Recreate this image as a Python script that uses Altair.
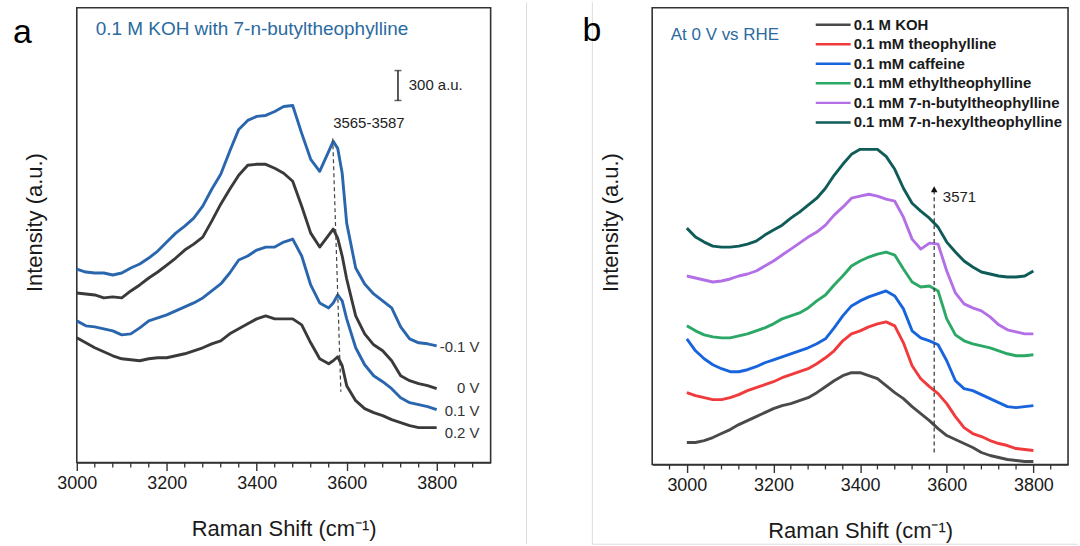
import altair as alt
import pandas as pd

FONT = "Liberation Sans"

# ---------------- Panel a : 0.1 M KOH with 7-n-butyltheophylline ----------------
shift_a = [3000, 3020, 3040, 3060, 3080, 3100, 3120, 3140, 3160, 3180, 3200, 3220, 3240,
           3260, 3280, 3300, 3320, 3340, 3360, 3380, 3400, 3420, 3440, 3460, 3480, 3500,
           3520, 3540, 3560, 3570, 3580, 3590, 3600, 3620, 3640, 3660, 3680, 3700, 3720,
           3740, 3760, 3780, 3800]
neg01_V = [1940, 1910, 1900, 1900, 1880, 1900, 1950, 1990, 2050, 2120, 2210, 2300, 2370,
           2450, 2570, 2740, 2890, 3120, 3340, 3430, 3470, 3480, 3520, 3570, 3580, 3300,
           3040, 2920, 3120, 3220, 3150, 2900, 2400, 1950, 1790, 1690, 1620, 1550, 1360,
           1240, 1200, 1190, 1170]
zero_V = [1700, 1690, 1680, 1650, 1660, 1650, 1720, 1780, 1850, 1910, 1980, 2050, 2130,
          2190, 2260, 2420, 2590, 2740, 2880, 2980, 2990, 2990, 2950, 2900, 2820, 2570,
          2300, 2160, 2280, 2340, 2250, 2070, 1840, 1470, 1290, 1180, 1120, 1020, 870,
          820, 790, 770, 740]
p01_V = [1420, 1370, 1360, 1340, 1320, 1280, 1290, 1350, 1420, 1450, 1480, 1520, 1560,
         1600, 1650, 1720, 1790, 1900, 2030, 2070, 2130, 2160, 2160, 2210, 2240, 2070,
         1780, 1600, 1550, 1600, 1680, 1620, 1440, 1150, 980, 870, 810, 740, 650,
         600, 580, 560, 530]
p02_V = [1250, 1200, 1150, 1110, 1070, 1040, 1030, 1020, 1040, 1050, 1050, 1070, 1090,
         1120, 1150, 1190, 1220, 1290, 1340, 1390, 1440, 1470, 1440, 1440, 1440, 1380,
         1200, 1040, 990, 1020, 1060, 970, 770, 620, 540, 500, 470, 430, 400,
         370, 350, 350, 350]
series_a = ["-0.1 V", "0 V", "0.1 V", "0.2 V"]
colors_a = ["#2a66ad", "#3a3a3a", "#2a66ad", "#3a3a3a"]
label_y_a = [1160, 750, 520, 300]

# ---------------- Panel b : at 0 V vs RHE ----------------
shift_b = [3000, 3020, 3040, 3060, 3080, 3100, 3120, 3140, 3160, 3180, 3200, 3220, 3240,
           3260, 3280, 3300, 3320, 3340, 3360, 3380, 3400, 3420, 3440, 3460, 3480, 3500,
           3520, 3540, 3560, 3580, 3600, 3620, 3640, 3660, 3680, 3700, 3720, 3740, 3760,
           3780, 3800]
koh = [230, 230, 250, 280, 320, 360, 410, 450, 490, 530, 570, 600, 620, 650, 680, 730,
       790, 850, 900, 930, 930, 900, 870, 800, 730, 670, 590, 520, 450, 370, 300, 260,
       220, 180, 130, 100, 80, 60, 50, 40, 40]
theophylline = [730, 700, 680, 660, 660, 680, 710, 750, 780, 810, 840, 880, 910, 940, 970,
                1020, 1080, 1150, 1250, 1320, 1350, 1390, 1420, 1440, 1400, 1230, 1000, 870,
                790, 720, 620, 490, 380, 320, 290, 250, 220, 200, 170, 160, 150]
caffeine = [1270, 1150, 1070, 1010, 970, 940, 940, 960, 990, 1030, 1060, 1090, 1120, 1150,
            1180, 1220, 1270, 1380, 1500, 1600, 1650, 1690, 1720, 1750, 1700, 1570, 1350,
            1280, 1250, 1210, 1050, 850, 770, 750, 710, 670, 630, 590, 580, 590, 600]
ethyl = [1400, 1350, 1310, 1290, 1280, 1280, 1300, 1320, 1350, 1380, 1420, 1470, 1500,
         1530, 1580, 1650, 1710, 1810, 1900, 2000, 2050, 2090, 2120, 2140, 2110, 1970,
         1840, 1790, 1800, 1750, 1470, 1310, 1250, 1220, 1200, 1180, 1150, 1120, 1100,
         1100, 1110]
butyl = [1900, 1880, 1860, 1840, 1850, 1870, 1900, 1920, 1950, 2000, 2050, 2110, 2170,
         2230, 2290, 2340, 2410, 2510, 2590, 2680, 2700, 2720, 2700, 2670, 2650, 2490,
         2270, 2170, 2230, 2220, 1950, 1730, 1620, 1580, 1550, 1490, 1410, 1360, 1340,
         1320, 1320]
hexyl = [2380, 2290, 2240, 2200, 2190, 2190, 2200, 2220, 2250, 2310, 2360, 2410, 2480,
         2540, 2610, 2680, 2780, 2910, 3020, 3120, 3170, 3170, 3170, 3100, 2970, 2780,
         2630, 2550, 2480, 2390, 2240, 2140, 2050, 1990, 1940, 1920, 1900, 1890, 1890,
         1900, 1950]
series_b = ["0.1 M KOH", "0.1 mM theophylline", "0.1 mM caffeine", "0.1 mM ethyltheophylline",
            "0.1 mM 7-n-butyltheophylline", "0.1 mM 7-n-hexyltheophylline"]
colors_b = ["#4a4a4a", "#f03a3c", "#1764dc", "#2ba866", "#b370e6", "#0f5b58"]

# axis ticks
major_ticks = [3000, 3200, 3400, 3600, 3800]
minor_ticks_a = [3040, 3080, 3120, 3160, 3240, 3280, 3320, 3360, 3440, 3480, 3520, 3560,
                 3640, 3680, 3720, 3760, 3840, 3880]
minor_ticks_b = [2960, 3040, 3080, 3120, 3160, 3240, 3280, 3320, 3360, 3440, 3480, 3520,
                 3560, 3640, 3680, 3720, 3760, 3840]

TITLE_BLUE = "#2b6aa0"
TXT = "#1a1a1a"
FRAME = "#333333"
LINE_W = 2.9

# ---------------- data frames ----------------
rows = []
for name, vals in zip(series_a, [neg01_V, zero_V, p01_V, p02_V]):
    for x, v in zip(shift_a, vals):
        rows.append({"shift": x, "intensity": v, "series": name})
df_a = pd.DataFrame(rows)

rows = []
for name, vals in zip(series_b, [koh, theophylline, caffeine, ethyl, butyl, hexyl]):
    for x, v in zip(shift_b, vals):
        rows.append({"shift": x, "intensity": v, "series": name})
df_b = pd.DataFrame(rows)

one = pd.DataFrame({"k": [0]})


def x_axis():
    return alt.Axis(
        values=major_ticks, format="d", tickSize=8,
        tickColor=FRAME, tickWidth=1.4, domainColor=FRAME, domainWidth=1.6,
        labelFont=FONT, labelFontSize=18, labelColor=TXT, labelPadding=4,
        labelOverlap=False, labelFlush=False, grid=False,
        title="Raman Shift (cm⁻¹)", titleFont=FONT, titleFontSize=22,
        titleFontWeight="normal", titleColor=TXT, titlePadding=26,
    )


def y_axis(ty):
    return alt.Axis(
        title="Intensity (a.u.)", labels=False, ticks=False, domain=False, grid=False,
        titleFont=FONT, titleFontSize=22, titleFontWeight="normal", titleColor=TXT,
        titleAngle=270, titleX=-42, titleY=ty, titleAlign="center", titleBaseline="middle",
    )


def minor_layer(vals, h):
    return alt.Chart(pd.DataFrame({"shift": vals})).mark_rule(
        color=FRAME, strokeWidth=1.3).encode(
        x=alt.X("shift:Q"), y=alt.value(h), y2=alt.value(h + 5))


# ---------------- panel a ----------------
HA = 456
xa = alt.X("shift:Q", scale=alt.Scale(domain=[3000, 3920], nice=False, zero=False),
           axis=x_axis())
ya = alt.Y("intensity:Q", scale=alt.Scale(domain=[0, 4560], nice=False, zero=False),
           axis=y_axis(215))

lines_a = alt.Chart(df_a).mark_line(strokeWidth=LINE_W, strokeJoin="round").encode(
    x=xa, y=ya,
    color=alt.Color("series:N", scale=alt.Scale(domain=series_a, range=colors_a), legend=None),
)

lab_a = pd.DataFrame({"shift": [3800] * 4, "intensity": label_y_a, "label": series_a})
labels_a = alt.Chart(lab_a).mark_text(align="right", baseline="middle", dx=43, font=FONT,
                                      fontSize=15, color="#333").encode(
    x=alt.X("shift:Q"), y=alt.Y("intensity:Q"), text="label:N")

dash_a = alt.Chart(pd.DataFrame({"shift": [3569], "x2": [3587], "intensity": [3250], "y2": [710]})).mark_rule(
    strokeDash=[4, 3], color="#444", strokeWidth=1.2).encode(
    x="shift:Q", x2="x2:Q", y="intensity:Q", y2="y2:Q")

peak_txt_a = alt.Chart(pd.DataFrame({"shift": [3570], "intensity": [3400], "t": ["3565-3587"]})).mark_text(
    align="left", baseline="middle", font=FONT, fontSize=15, color="#222").encode(
    x="shift:Q", y="intensity:Q", text="t:N")

scale_bar = alt.Chart(pd.DataFrame({"shift": [3714], "intensity": [3630], "y2": [3930]})).mark_rule(
    color="#222", strokeWidth=1.5).encode(x="shift:Q", y="intensity:Q", y2="y2:Q")
scale_caps = alt.Chart(pd.DataFrame({"shift": [3714, 3714], "intensity": [3630, 3930]})).mark_tick(
    orient="horizontal", color="#222", size=7, thickness=1.5).encode(x="shift:Q", y="intensity:Q")
bar_txt = alt.Chart(pd.DataFrame({"shift": [3738], "intensity": [3790], "t": ["300 a.u."]})).mark_text(
    align="left", baseline="middle", font=FONT, fontSize=15, color="#222").encode(
    x="shift:Q", y="intensity:Q", text="t:N")

title_a = alt.Chart(pd.DataFrame({"shift": [3042], "intensity": [4345],
                                  "t": ["0.1 M KOH with 7-n-butyltheophylline"]})).mark_text(
    align="left", baseline="middle", font=FONT, fontSize=19, color=TITLE_BLUE).encode(
    x="shift:Q", y="intensity:Q", text="t:N")

letter_a = alt.Chart(pd.DataFrame({"t": ["a"]})).mark_text(
    align="left", baseline="alphabetic", font=FONT, fontSize=34, color="#000").encode(
    x=alt.value(-64), y=alt.value(35), text="t:N")

anchor = alt.Chart(one).mark_rule(color="white", strokeWidth=1).encode(
    x=alt.value(-75.5), y=alt.value(-5.5), y2=alt.value(5))
sep_a = alt.Chart(one).mark_rule(color="#dcdcdc", strokeWidth=1).encode(
    x=alt.value(451), y=alt.value(-5.5), y2=alt.value(538))

panel_a = alt.layer(sep_a, anchor, lines_a, minor_layer(minor_ticks_a, HA), labels_a, dash_a,
                    peak_txt_a, scale_bar, scale_caps, bar_txt, title_a, letter_a).properties(
    width=415, height=HA)

# ---------------- panel b ----------------
HB = 458
color_b = alt.Color("series:N", scale=alt.Scale(domain=series_b, range=colors_b), legend=None)
xb = alt.X("shift:Q", scale=alt.Scale(domain=[2920, 3880], nice=False, zero=False),
           axis=x_axis())
yb = alt.Y("intensity:Q", scale=alt.Scale(domain=[10, 4590], nice=False, zero=False),
           axis=y_axis(215))

lines_b = alt.Chart(df_b).mark_line(strokeWidth=LINE_W, strokeJoin="round").encode(
    x=xb, y=yb, color=color_b)

arrow_line = alt.Chart(pd.DataFrame({"shift": [3571], "intensity": [130], "y2": [2760]})).mark_rule(
    strokeDash=[4, 3], color="#333", strokeWidth=1.2).encode(x="shift:Q", y="intensity:Q", y2="y2:Q")
arrow_head = alt.Chart(pd.DataFrame({"shift": [3571], "intensity": [2770]})).mark_point(
    shape="triangle-up", filled=True, color="#111", size=45, opacity=1).encode(
    x="shift:Q", y="intensity:Q")
arrow_txt = alt.Chart(pd.DataFrame({"shift": [3591], "intensity": [2690], "t": ["3571"]})).mark_text(
    align="left", baseline="middle", font=FONT, fontSize=15, color="#222").encode(
    x="shift:Q", y="intensity:Q", text="t:N")
rhe_txt = alt.Chart(pd.DataFrame({"shift": [2963], "intensity": [4320], "t": ["At 0 V vs RHE"]})).mark_text(
    align="left", baseline="middle", font=FONT, fontSize=17, color=TITLE_BLUE).encode(
    x="shift:Q", y="intensity:Q", text="t:N")
letter_b = alt.Chart(pd.DataFrame({"t": ["b"]})).mark_text(
    align="left", baseline="alphabetic", font=FONT, fontSize=34, color="#000").encode(
    x=alt.value(-70), y=alt.value(33), text="t:N")
sep_b1 = alt.Chart(one).mark_rule(color="#dcdcdc", strokeWidth=1).encode(
    x=alt.value(-60), y=alt.value(-5.5), y2=alt.value(538))
sep_b2 = alt.Chart(one).mark_rule(color="#dcdcdc", strokeWidth=1).encode(
    x=alt.value(-60), x2=alt.value(427), y=alt.value(538))

inner_b = alt.layer(sep_b1, sep_b2, lines_b, minor_layer(minor_ticks_b, HB), arrow_line,
                    arrow_head, arrow_txt, rhe_txt, letter_b)

legend_df = pd.DataFrame({"series": series_b})
leg_y = alt.Y("series:N", sort=series_b, axis=None,
              scale=alt.Scale(type="point", range=[17, 115], padding=0))
leg_rule = alt.Chart(legend_df).mark_rule(strokeWidth=2.5).encode(
    x=alt.value(164), x2=alt.value(199), y=leg_y, color=color_b)
leg_text = alt.Chart(legend_df).mark_text(
    align="left", baseline="middle", font=FONT, fontSize=15, fontWeight="bold", color=TXT).encode(
    x=alt.value(202), y=leg_y, text="series:N")

panel_b = alt.layer(inner_b, leg_rule, leg_text).resolve_scale(y="independent").properties(
    width=417, height=HB)

chart = alt.hconcat(panel_a, panel_b, spacing=162, bounds="flush").resolve_scale(
    color="independent", x="independent", y="independent"
).properties(
    padding={"left": 0, "top": 0, "right": 0, "bottom": 0}, background="white"
).configure_view(stroke=FRAME, strokeWidth=1.6)

chart.save("out.html", embed_options={"renderer": "svg", "actions": False})
